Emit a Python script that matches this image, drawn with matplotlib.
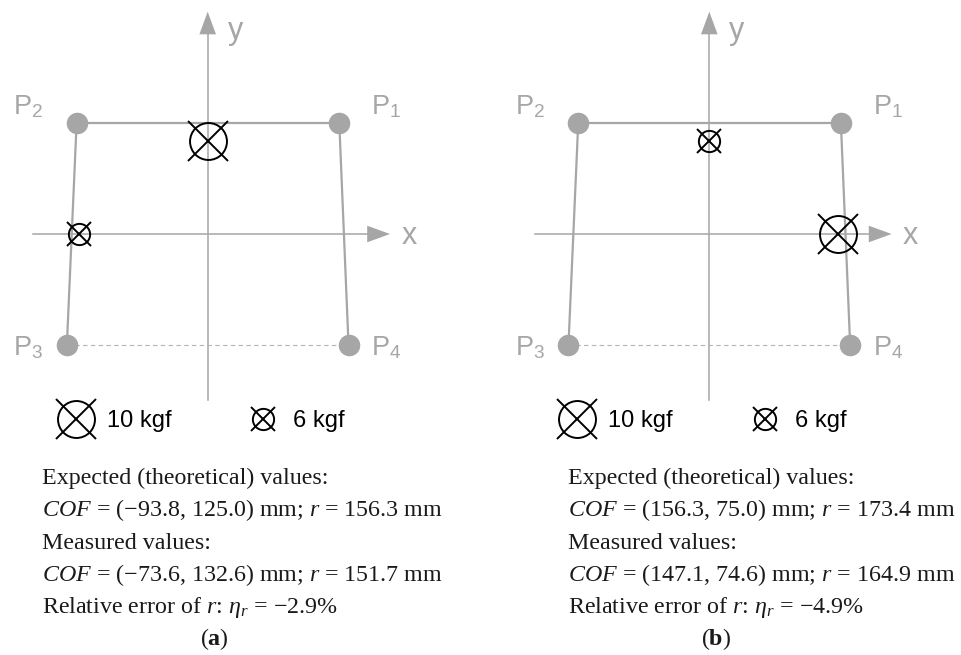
import matplotlib
matplotlib.use("Agg")
import matplotlib.pyplot as plt
from matplotlib.transforms import Affine2D
from matplotlib.patches import Polygon

plt.rcParams['mathtext.fontset'] = 'custom'
plt.rcParams['mathtext.rm'] = 'Liberation Serif'
plt.rcParams['mathtext.it'] = 'Liberation Serif:italic'
plt.rcParams['mathtext.bf'] = 'Liberation Serif:bold'
plt.rcParams['mathtext.sf'] = 'Liberation Sans'

# ---------------- data ----------------
corner_names = ['1', '2', '3', '4']          # P1..P4
corner_x = [256, -255, -274, 274]           # mm (schematic)
corner_y = [238, 238, -238, -238]           # mm
load_kgf = [10, 6]
load_a_x = [0, -250]                         # panel (a): 10 kgf, 6 kgf
load_a_y = [200, 0]
load_b_x = [250, 0]                          # panel (b): 10 kgf, 6 kgf
load_b_y = [0, 200]
panel_tags = ['a', 'b']
text_a = ['Expected (theoretical) values:',
          r'$\mathit{COF}$ = (−93.8, 125.0) mm; $r$ = 156.3 mm',
          'Measured values:',
          r'$\mathit{COF}$ = (−73.6, 132.6) mm; $r$ = 151.7 mm',
          r'Relative error of $r$: $\eta_r$ = −2.9%']
text_b = ['Expected (theoretical) values:',
          r'$\mathit{COF}$ = (156.3, 75.0) mm; $r$ = 173.4 mm',
          'Measured values:',
          r'$\mathit{COF}$ = (147.1, 74.6) mm; $r$ = 164.9 mm',
          r'Relative error of $r$: $\eta_r$ = −4.9%']

# ---------------- layout ----------------
W, H = 962, 655
SX, SY = 0.514, 0.467        # px per mm
GRAY = '#a6a6a6'
fig = plt.figure(figsize=(W / 100, H / 100), dpi=100)
pxT = Affine2D().scale(0.01, -0.01).translate(0, H / 100) + fig.dpi_scale_trans

OY = 234
panels = [
    dict(ox=207.7, tx=41.7, lx=load_a_x, ly=load_a_y, lines=text_a, tag=panel_tags[0]),
    dict(ox=709.3, tx=568.3, lx=load_b_x, ly=load_b_y, lines=text_b, tag=panel_tags[1]),
]

BIG = dict(circ=26.6, cross=29.0)
SMALL = dict(circ=15.3, cross=17.5)


def otimes(ax, x, y, spec, transform=None):
    kw = {} if transform is None else dict(transform=transform)
    ax.plot([x], [y], marker='o', ms=spec['circ'], mfc='none', mec='black',
            mew=1.4, ls='none', clip_on=False, zorder=6, **kw)
    ax.plot([x], [y], marker='x', ms=spec['cross'], mec='black',
            mew=1.4, ls='none', clip_on=False, zorder=6, **kw)


for p in panels:
    ox = p['ox']
    ax = fig.add_axes([(ox - 240) / W, (H - 440) / H, 480 / W, 440 / H])
    ax.set_xlim(-240 / SX, 240 / SX)
    ax.set_ylim(-(440 - OY) / SY, OY / SY)
    ax.axis('off')

    # coordinate axes with arrowheads (pixel layout)
    ax.plot([ox - 174.7, ox + 162], [OY, OY], color=GRAY, lw=1.1,
            transform=pxT, clip_on=False, zorder=1)
    ax.plot([ox, ox], [400, 32], color=GRAY, lw=1.1,
            transform=pxT, clip_on=False, zorder=1)
    ax.add_patch(Polygon([[ox + 182.3, OY], [ox + 159.5, OY - 8.3], [ox + 159.5, OY + 8.3]],
                         closed=True, fc=GRAY, ec='none', transform=pxT, clip_on=False))
    ax.add_patch(Polygon([[ox, 11.7], [ox - 8.3, 34.3], [ox + 8.3, 34.3]],
                         closed=True, fc=GRAY, ec='none', transform=pxT, clip_on=False))
    ax.text(ox + 20, 38.5, 'y', transform=pxT, fontsize=22, color=GRAY,
            family='Liberation Sans', ha='left', va='baseline')
    ax.text(ox + 193.5, 244.5, 'x', transform=pxT, fontsize=22, color=GRAY,
            family='Liberation Sans', ha='left', va='baseline')

    # plate outline: P2-P1 / P1-P4 / P3-P2 solid; P3-P4 dashed
    for i, j in [(1, 0), (0, 3), (2, 1)]:
        ax.plot([corner_x[i], corner_x[j]], [corner_y[i], corner_y[j]],
                color=GRAY, lw=1.6, zorder=2, solid_capstyle='butt')
    ax.plot([corner_x[2], corner_x[3]], [corner_y[2], corner_y[3]],
            color='#b4b4b4', lw=0.8, ls=(0, (4, 3)), zorder=2)
    ax.plot(corner_x, corner_y, 'o', ms=14.5, color=GRAY, zorder=3, clip_on=False)

    # corner labels (fixed columns)
    label_pos = {'1': (ox + 163.3, 114), '2': (ox - 194.7, 114),
                 '3': (ox - 194.7, 355), '4': (ox + 163.3, 355)}
    for nm in corner_names:
        lx, ly = label_pos[nm]
        ax.text(lx, ly, r'$\mathsf{P}_{\mathsf{%s}}$' % nm, transform=pxT,
                fontsize=19.5, color=GRAY, ha='left', va='baseline')

    # loads
    for k, (x, y) in enumerate(zip(p['lx'], p['ly'])):
        otimes(ax, x, y, BIG if load_kgf[k] == 10 else SMALL)

    # legend row
    otimes(ax, ox - 132.2, 419, BIG, transform=pxT)
    ax.text(ox - 101, 427, f'{load_kgf[0]} kgf', transform=pxT, fontsize=17,
            family='Liberation Sans', ha='left', va='baseline')
    otimes(ax, ox + 55.6, 419, SMALL, transform=pxT)
    ax.text(ox + 85.5, 427, f'{load_kgf[1]} kgf', transform=pxT, fontsize=17,
            family='Liberation Sans', ha='left', va='baseline')

    # text block
    for n, line in enumerate(p['lines']):
        fig.text(p['tx'] / W, 1 - (484.3 + 32.2 * n) / H, line, fontsize=17.3,
                 family='Liberation Serif', ha='left', va='baseline', color='#1a1a1a')
    fig.text((ox + 7) / W, 1 - 645 / H, r'($\mathbf{%s}$)' % p['tag'], fontsize=17.3,
             family='Liberation Serif', ha='center', va='baseline', color='#1a1a1a')

fig.savefig('out.png', dpi=100)
